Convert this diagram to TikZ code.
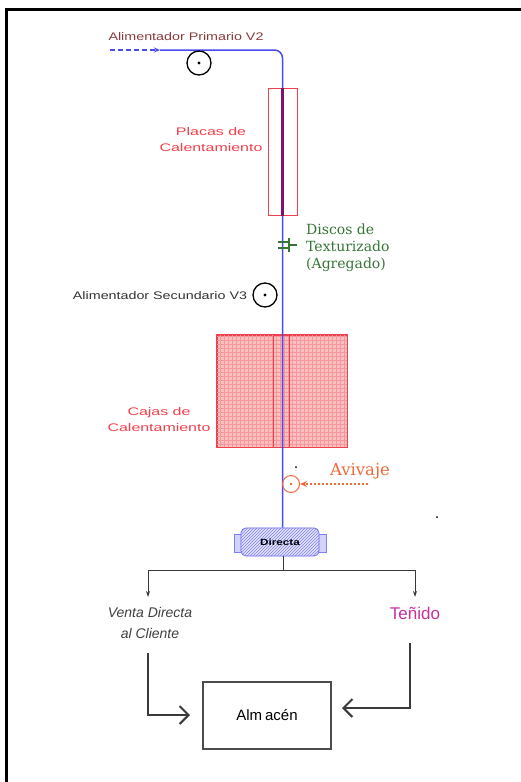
\documentclass[tikz,border=0pt]{standalone}
\usepackage{fontspec}
\setmainfont{Liberation Sans}
\newfontfamily\widesans[FakeStretch=1.3]{Liberation Sans}
\newfontfamily\widersans[FakeStretch=1.45]{Liberation Sans}
\newfontfamily\discofont{DejaVu Serif}
\usetikzlibrary{arrows.meta, patterns, positioning}

\definecolor{threadblue}{HTML}{4A4AF0}
\definecolor{feedred}{HTML}{8B3A3A}
\definecolor{heatred}{HTML}{F0404C}
\definecolor{heatpink}{HTML}{F9C0C0}
\definecolor{platepurple}{HTML}{80106A}
\definecolor{discgreen}{HTML}{357535}
\definecolor{avivorange}{HTML}{EE6A3A}
\definecolor{dyemagenta}{HTML}{C8309A}
\definecolor{flowgrey}{HTML}{3A3A3A}

\begin{document}
\begin{tikzpicture}[x=1pt, y=-1pt,
  thread/.style = {draw=threadblue, line width=1.5pt},
  roller/.style = {circle, draw, line width=1.3pt, minimum size=24pt, inner sep=0pt},
  lbl/.style = {align=center, inner sep=0pt},
  branch/.style = {draw=flowgrey, line width=1pt, -{Stealth[length=6pt, width=4pt]}},
  flow/.style = {draw=flowgrey, line width=2pt, -{Straight Barb[length=9pt, width=18pt]}}]

  \useasboundingbox (0,0) rectangle (521,782);
  \draw[line width=3pt] (6.5,782) -- (6.5,9) -- (521,9);

  % placas y cajas
  \node[draw=heatred, line width=1pt, minimum width=29pt, minimum height=127pt, inner sep=0pt] (placas) at (282.5,151.5) {};
  \node[draw=heatred, fill=heatpink, line width=0.8pt, minimum width=130pt, minimum height=112pt, inner sep=0pt] (cajas) at (282,391) {};
  \draw[heatred!55, line width=0.4pt, step=4pt] (cajas.south west) grid (cajas.north east);
  \draw[heatred, line width=0.8pt] (cajas.south west) rectangle (cajas.north east);
  \node[draw=heatred, line width=1pt, minimum width=16pt, minimum height=112pt, inner sep=0pt] (cajain) at (281,391) {};

  % salida Directa
  \node[draw=threadblue!70, line width=0.8pt, fill=threadblue!25, minimum width=8pt, minimum height=18pt, inner sep=0pt] (capl) at (238,543) {};
  \node[draw=threadblue!70, line width=0.8pt, fill=threadblue!25, minimum width=8pt, minimum height=18pt, inner sep=0pt] (capr) at (322,543) {};
  \node[draw=threadblue!80, line width=0.8pt, rounded corners=5pt, fill=threadblue!15,
    minimum width=78pt, minimum height=28pt, inner sep=0pt] (directa) at (280,542) {};
  \fill[pattern=north east lines, pattern color=threadblue!70, rounded corners=5pt] (directa.south west) rectangle (directa.north east);
  \node[font=\widesans\fontsize{9}{10}\selectfont\bfseries] at (directa) {Directa};

  % hilo principal
  \coordinate (in) at (110,50);
  \coordinate (start) at (160,50);
  \coordinate (corner) at (282.5,50);
  \draw[thread, dash pattern=on 5pt off 3pt, -{Stealth[length=6pt, width=5pt]}] (in) -- (start);
  \draw[thread, rounded corners=8pt] (start) -- (corner) -- (directa.north -| corner);
  \draw[platepurple, line width=3.5pt] (placas.north) -- (placas.south);

  % alimentadores
  \node[roller] (v2) at (199,63) {};
  \fill (v2) circle (1.6pt);
  \node[lbl, font=\widesans\fontsize{11}{13}\selectfont, text=feedred] (v2lbl) at (186,37) {Alimentador Primario V2};
  \node[roller] (v3) at (265,295) {};
  \fill (v3) circle (1.6pt);
  \node[lbl, font=\widesans\fontsize{11}{13}\selectfont, text=black!80] (v3lbl) at (160,296) {Alimentador Secundario V3};

  % etiquetas de calentamiento
  \node[lbl, font=\widersans\fontsize{11}{16}\selectfont, text=heatred] (placaslbl) at (211,140) {Placas de\\Calentamiento};
  \node[lbl, font=\widersans\fontsize{11}{16}\selectfont, text=heatred] (cajaslbl) at (159,420) {Cajas de\\Calentamiento};

  % discos
  \draw[discgreen, line width=1.5pt] (278,242) -- (290,242) (278,248) -- (290,248)
    (289,238) -- (289,252) (289,245) -- (297,245);
  \node[lbl, anchor=west, align=left, font=\discofont\fontsize{14}{17}\selectfont, text=discgreen] (discolbl) at (306,248) {Discos de\\Texturizado\\(Agregado)};

  % avivaje
  \node[circle, draw=avivorange, line width=1pt, minimum size=17pt, inner sep=0pt] (aviv) at (291,484) {};
  \fill[avivorange] (aviv) circle (1.3pt);
  \coordinate (avivin) at (368,484);
  \draw[avivorange, line width=1.3pt, dash pattern=on 2.5pt off 1.5pt, -{Stealth[length=7pt, width=6pt]}] (avivin) -- (aviv.east);
  \node[lbl, font=\discofont\fontsize{16.5}{18}\selectfont, text=avivorange] (avivlbl) at (360,471) {Avivaje};
  \fill (296,467) circle (1pt);
  \fill (437,517) circle (1pt);

  % destinos
  \node[lbl, font=\itshape\fontsize{14}{21}\selectfont, text=black!75] (venta) at (150,623) {Venta Directa\\al Cliente};
  \node[lbl, font=\fontsize{17}{18}\selectfont, text=dyemagenta] (tenido) at (415,613) {Teñido};
  \node[draw=black!70, line width=1.5pt, minimum width=128pt, minimum height=67pt, inner sep=0pt,
    font=\fontsize{15}{17}\selectfont] (almacen) at (267,715.5) {Alm\kern3pt acén};

  \coordinate (split) at (283,570);
  \coordinate (ventatop) at (148,597);
  \coordinate (tenidotop) at (415,597);
  \draw[draw=flowgrey, line width=1pt] (directa.south -| split) -- (split);
  \draw[branch] (split) -| (ventatop);
  \draw[branch] (split) -| (tenidotop);

  \coordinate (ventaout) at (148,653);
  \coordinate (ventain) at (190,715);
  \coordinate (tenidoout) at (410,643);
  \coordinate (tenidoin) at (342,708);
  \draw[flow] (ventaout) |- (ventain);
  \draw[flow] (tenidoout) |- (tenidoin);
\end{tikzpicture}
\end{document}
